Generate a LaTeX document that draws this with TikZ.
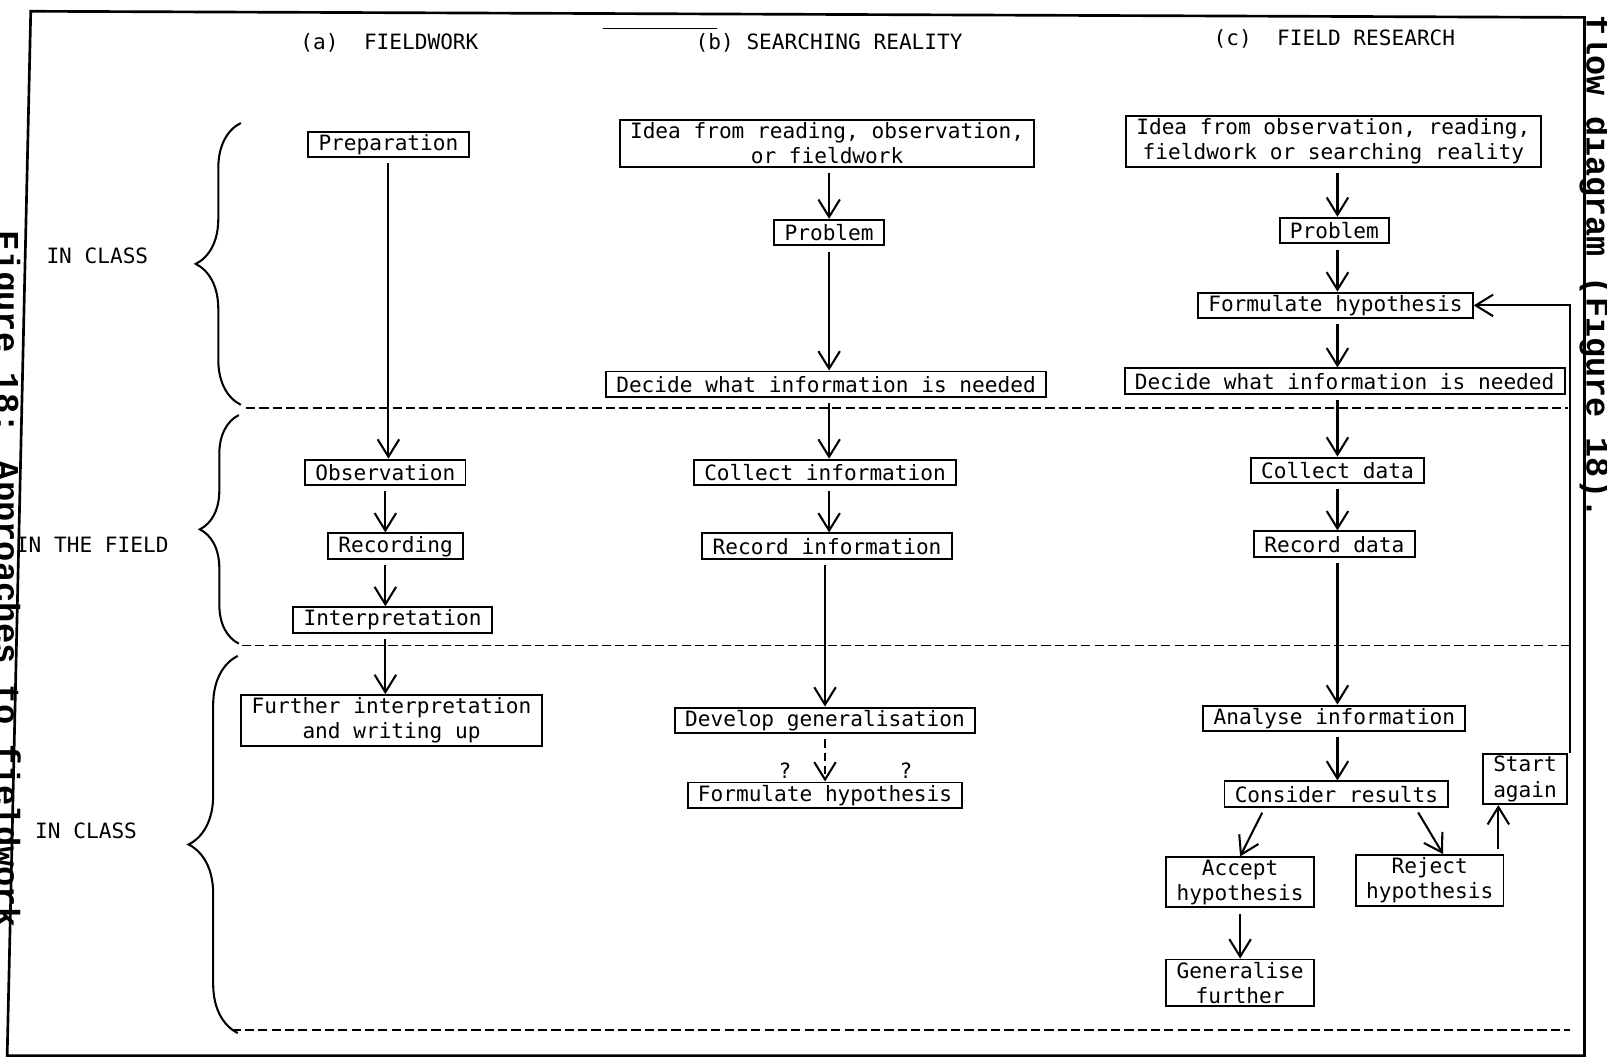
\documentclass[tikz,border=0pt]{standalone}
\usepackage{fontspec}
\setmonofont{DejaVu Sans Mono}
\newfontfamily\pageFont{Liberation Mono}
\usepackage{tikz}
\usetikzlibrary{arrows.meta,decorations.pathreplacing}
\newcommand{\flowFont}{\fontsize{20.6}{24.5}\selectfont\ttfamily}
\newcommand{\flowLine}{1.9pt}

\begin{document}
\begin{tikzpicture}[x=1pt, y=-1pt, every node/.style={font=\flowFont},
		box/.style={draw, line width=\flowLine, inner xsep=10pt, inner ysep=2.5pt, minimum height=25pt, align=center},
		arr/.style={line width=2pt, shorten <=5pt, -{Straight Barb[length=17pt,width=21pt,line width=2pt]}},
		sep/.style={line width=1.3pt, dash pattern=on 9pt off 4pt},
		brc/.style={line width=2pt, decorate, decoration={brace, amplitude=#1}}]
		\useasboundingbox (0,0) rectangle (1568,1035);
		% frame and page text
		\draw[line width=2.6pt] (30,11) -- (1546,17) -- (1546,1030) -- (7,1030) -- cycle;
		\draw[line width=0.8pt] (588,28) -- (700,28);
		\node[font=\pageFont\bfseries\fontsize{32.7}{34}\selectfont, rotate=-90, anchor=base west, inner sep=0] (capR) at (1548,15) {flow diagram (Figure 18).};
		\node[font=\pageFont\bfseries\fontsize{33}{35}\selectfont, rotate=-90, anchor=base west, inner sep=0] (capL) at (-4,225) {Figure 18: Approaches to fieldwork};
		% headings
		\node (hA) at (380,42) {(a)~~FIELDWORK};
		\node (hB) at (809,42) {(b) SEARCHING REALITY};
		\node (hC) at (1302,38) {(c)~~FIELD RESEARCH};
		% stages
		\node (sClass) at (95,250) {IN CLASS};
		\node (sField) at (90,532) {IN THE FIELD};
		\node (sBack) at (84,811) {IN CLASS};
		\draw[brc=44pt] (235,395) -- (235,120);
		\draw[brc=38pt] (233,628) -- (233,405);
		\draw[brc=48pt] (232,1008) -- (232,640);
		\draw[sep] (240,398) -- (1530,398);
		\draw[sep] (236,630) -- (1532,630);
		\draw[sep] (226,1005) -- (1532,1005);
		%\begin{column}{fieldwork}
		\node[box] (prepA) at (379,141) {Preparation};
		\node[box] (obsA) at (376,461) {Observation};
		\node[box] (recA) at (386,533) {Recording};
		\node[box] (intA) at (383,605) {Interpretation};
		\node[box] (furA) at (382,703) {Further interpretation\\and writing up};
		\draw[arr] (prepA.south) -- (prepA.south |- obsA.north);
		\draw[arr] (obsA.south) -- (obsA.south |- recA.north);
		\draw[arr] (recA.south -| obsA.south) -- (obsA.south |- intA.north);
		\draw[arr] (intA.south -| obsA.south) -- (obsA.south |- furA.north);
		%\end{column}
		%\begin{column}{searching reality}
		\node[box] (ideaB) at (807,140) {Idea from reading, observation,\\or fieldwork};
		\node[box] (probB) at (809,227) {Problem};
		\node[box] (decB) at (806,375) {Decide what information is needed};
		\node[box] (colB) at (805,461) {Collect information};
		\node[box] (recB) at (807,533) {Record information};
		\node[box] (devB) at (805,703) {Develop generalisation};
		\node[box] (hypB) at (805,776) {Formulate hypothesis};
		\node (qL) at (766,752) {?};
		\node (qR) at (884,752) {?};
		\draw[arr] (ideaB.south -| probB.north) -- (probB.north);
		\draw[arr] (probB.south) -- (probB.south |- decB.north);
		\draw[arr] (decB.south -| probB.south) -- (probB.south |- colB.north);
		\draw[arr] (colB.south -| probB.south) -- (probB.south |- recB.north);
		\draw[arr] (recB.south -| devB.north) -- (devB.north);
		\draw[arr, dash pattern=on 8pt off 5pt] (devB.south) -- (devB.south |- hypB.north);
		%\end{column}
		%\begin{column}{field research}
		\node[box] (ideaC) at (1301,138) {Idea from observation, reading,\\fieldwork or searching reality};
		\node[box] (probC) at (1302,225) {Problem};
		\node[box] (hypC) at (1303,298) {Formulate hypothesis};
		\node[box] (decC) at (1312,372) {Decide what information is needed};
		\node[box] (colC) at (1305,459) {Collect data};
		\node[box] (recC) at (1302,531) {Record data};
		\node[box] (anaC) at (1302,701) {Analyse information};
		\node[box] (conC) at (1304,775) {Consider results};
		\node[box] (accC) at (1210,861) {Accept\\hypothesis};
		\node[box] (rejC) at (1395,859) {Reject\\hypothesis};
		\node[box] (genC) at (1210,959) {Generalise\\further};
		\node[box] (startC) at (1488,760) {Start\\again};
		\draw[arr] (ideaC.south -| colC.north) -- (colC.north |- probC.north);
		\draw[arr] (probC.south -| colC.north) -- (colC.north |- hypC.north);
		\draw[arr] (hypC.south -| colC.north) -- (colC.north |- decC.north);
		\draw[arr] (decC.south -| colC.north) -- (colC.north);
		\draw[arr] (colC.south) -- (colC.south |- recC.north);
		\draw[arr] (recC.south -| colC.south) -- (colC.south |- anaC.north);
		\draw[arr] (anaC.south -| colC.south) -- (colC.south |- conC.north);
		\draw[arr] ([xshift=40pt]conC.south west) -- (accC.north);
		\draw[arr] ([xshift=-33pt]conC.south east) -- ([xshift=13pt]rejC.north);
		\draw[arr] (accC.south) -- (genC.north);
		\draw[arr] ([xshift=-6pt]rejC.north east) -- ([xshift=-6pt]rejC.north east |- startC.south);
		\draw[arr, shorten <=0pt] ([xshift=2pt]startC.north east) |- (hypC.east);
		%\end{column}
	\end{tikzpicture}
\end{document}
